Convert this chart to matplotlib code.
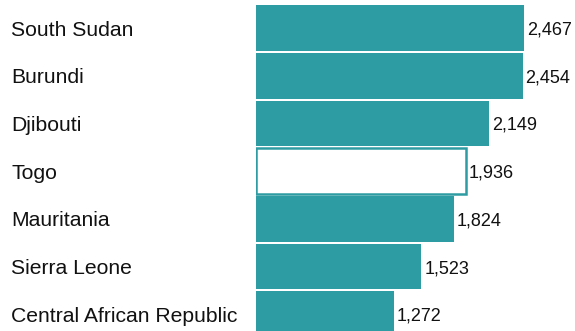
import matplotlib

matplotlib.use("Agg")
import matplotlib.pyplot as plt
import matplotlib.transforms as mtransforms

countries = [
    "South Sudan",
    "Burundi",
    "Djibouti",
    "Togo",
    "Mauritania",
    "Sierra Leone",
    "Central African Republic",
]
values = [2467, 2454, 2149, 1936, 1824, 1523, 1272]
highlight = "Togo"

teal = "#2e9ca3"

plt.rcParams["font.family"] = ["Liberation Sans", "DejaVu Sans"]

W, H = 575, 331
fig = plt.figure(figsize=(W / 100, H / 100), dpi=100)
ax = fig.add_axes([256 / W, 0, (W - 256) / W, 1])

px_per_unit = 268 / 2467
ax.set_xlim(0, (W - 256) / px_per_unit)
pitch = 47.7
ax.set_ylim((H - 28) / pitch, -28 / pitch)
ax.axis("off")

for i, (name, val) in enumerate(zip(countries, values)):
    if name == highlight:
        ax.barh(i, val, height=0.96, color="white", edgecolor=teal, linewidth=1.8)
    else:
        ax.barh(i, val, height=0.96, color=teal, linewidth=0)
    ax.annotate(
        f"{val:,}",
        xy=(val, i),
        xytext=(2, -1.5),
        textcoords="offset points",
        va="center",
        ha="left",
        fontsize=13,
        color="#111111",
    )

# country names sit at the left edge of the figure
offset = mtransforms.ScaledTranslation(0, -1.5 / 72, fig.dpi_scale_trans)
trans = mtransforms.blended_transform_factory(fig.transFigure, ax.transData) + offset
for i, name in enumerate(countries):
    ax.text(11 / W, i, name, transform=trans, va="center", ha="left",
            fontsize=15.2, color="#111111", clip_on=False)

fig.savefig("out.png", dpi=100)
